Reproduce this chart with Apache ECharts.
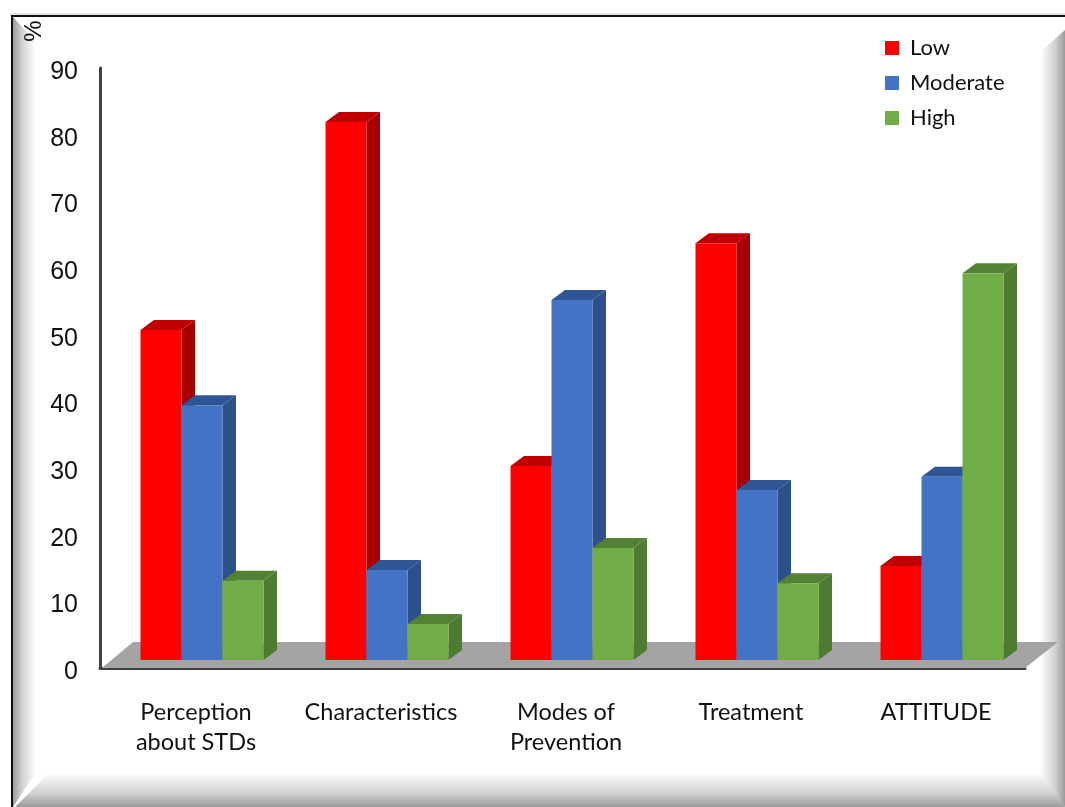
<!DOCTYPE html>
<html>
<head>
    <meta charset="utf-8">
    <title>STD knowledge and attitude levels</title>
    <script src="https://cdn.jsdelivr.net/npm/echarts@6/dist/echarts.min.js"></script>
    <style>
        html, body { margin: 0; padding: 0; background: #fff; }
        #main { width: 1065px; height: 807px; }
    </style>
</head>
<body>
    <div id="main"></div>
    <script>
        var categories = ['Perception\nabout STDs', 'Characteristics', 'Modes of\nPrevention', 'Treatment', 'ATTITUDE'];
        var low = [49.5, 80.7, 29.1, 62.5, 14.1];
        var moderate = [38.2, 13.5, 54, 25.5, 27.5];
        var high = [11.9, 5.4, 16.8, 11.5, 58];

        var myChart = echarts.init(document.getElementById('main'));

        // depth of the fake 3D bars, and where they stand on the floor
        var depthX = 13.5, depthY = 10;
        var floorX = 31, floorY = 26;
        var standX = 9.5, standY = 8;
        var barWidth = 41;

        function poly(points, color) {
            return { type: 'polygon', shape: { points: points }, style: { fill: color } };
        }

        function barRenderer(index, front, top, side) {
            return function (params, api) {
                var p = api.coord([api.value(0), api.value(1)]);
                var base = api.coord([api.value(0), 0]);
                var x = p[0] + standX + (index - 1.5) * barWidth;
                var yTop = p[1] - standY;
                var yBase = base[1] - standY;
                return {
                    type: 'group',
                    children: [
                        poly([[x + barWidth, yTop], [x + barWidth + depthX, yTop - depthY], [x + barWidth + depthX, yBase - depthY], [x + barWidth, yBase]], side),
                        poly([[x, yTop], [x + depthX, yTop - depthY], [x + barWidth + depthX, yTop - depthY], [x + barWidth, yTop]], top),
                        poly([[x, yTop], [x + barWidth, yTop], [x + barWidth, yBase], [x, yBase]], front)
                    ]
                };
            };
        }

        function floorRenderer(params) {
            var g = params.coordSys;
            var y = g.y + g.height;
            return poly([[g.x + 2, y], [g.x + floorX + 2, y - floorY], [g.x + g.width + floorX + 2, y - floorY], [g.x + g.width, y]], '#a5a3a4');
        }

        function fade(x, y, x2, y2) {
            return {
                type: 'linear', x: x, y: y, x2: x2, y2: y2,
                colorStops: [{ offset: 0, color: '#9a9a9a' }, { offset: 0.4, color: '#d2d2d2' }, { offset: 1, color: '#ffffff' }]
            };
        }

        function barSeries(name, data, index, front, top, side) {
            return {
                name: name,
                type: 'custom',
                itemStyle: { color: front },
                data: data.map(function (v, i) { return [i, v]; }),
                encode: { x: 0, y: 1 },
                renderItem: barRenderer(index, front, top, side),
                z: 3
            };
        }

        var option = {
            animation: false,
            backgroundColor: '#ffffff',
            textStyle: { fontFamily: 'Lato' },
            grid: { left: 100, top: 68, width: 925, height: 600 },
            legend: {
                left: 880,
                top: 32,
                orient: 'vertical',
                itemWidth: 14,
                itemHeight: 14,
                itemGap: 13,
                icon: 'rect',
                data: ['Low', 'Moderate', 'High'],
                textStyle: { fontFamily: 'Lato', fontSize: 22, color: '#111', padding: [0, 0, 0, 6] }
            },
            xAxis: {
                type: 'category',
                data: categories,
                axisLine: { lineStyle: { color: '#404040', width: 3 } },
                axisTick: { show: false },
                axisLabel: {
                    interval: 0,
                    hideOverlap: false,
                    margin: 29,
                    fontFamily: 'Lato',
                    fontSize: 23.5,
                    lineHeight: 30,
                    color: '#111',
                    padding: [0, 0, 0, 7]
                }
            },
            yAxis: {
                type: 'value',
                min: 0,
                max: 90,
                interval: 10,
                splitLine: { show: false },
                axisTick: { show: false },
                axisLine: { show: true, lineStyle: { color: '#404040', width: 3 } },
                axisLabel: { margin: 22, fontFamily: 'Liberation Sans', fontSize: 25, color: '#111', verticalAlign: 'top', lineHeight: 8 }
            },
            graphic: [
                // picture frame: white margin, black rule, bevelled edges
                { type: 'rect', z: -10, shape: { x: 10, y: 13, width: 1055, height: 4 }, style: { fill: '#e4e4e4' } },
                { type: 'rect', z: -9, shape: { x: 11, y: 15, width: 1054, height: 2 }, style: { fill: '#111' } },
                { type: 'rect', z: -9, shape: { x: 11, y: 15, width: 2, height: 792 }, style: { fill: '#111' } },
                { type: 'polygon', z: -8, shape: { points: [[13, 17], [36, 42], [36, 772], [13, 807]] }, style: { fill: fade(0, 0, 1, 0) } },
                { type: 'polygon', z: -8, shape: { points: [[1065, 30], [1040, 52], [1040, 775], [1065, 807]] }, style: { fill: fade(1, 0, 0, 0) } },
                { type: 'polygon', z: -7, shape: { points: [[15, 807], [50, 772], [1040, 772], [1065, 807]] }, style: { fill: fade(0, 1, 0, 0) } },
                // the % unit, turned on its side
                {
                    type: 'text', z: 5, x: 34, y: 31, rotation: Math.PI / 2,
                    style: { text: '%', fill: '#111', font: '24px "Liberation Sans"', align: 'center', verticalAlign: 'middle' }
                }
            ],
            series: [
                { type: 'custom', data: [[0, 0]], encode: { x: 0, y: 1 }, renderItem: floorRenderer, z: 1, silent: true, legendHoverLink: false },
                barSeries('Low', low, 0, '#ff0000', '#c00000', '#a80000'),
                barSeries('Moderate', moderate, 1, '#4472c4', '#2f5597', '#2d4f8a'),
                barSeries('High', high, 2, '#70ad47', '#548235', '#4e7a31')
            ]
        };

        myChart.setOption(option);
    </script>
</body>
</html>
